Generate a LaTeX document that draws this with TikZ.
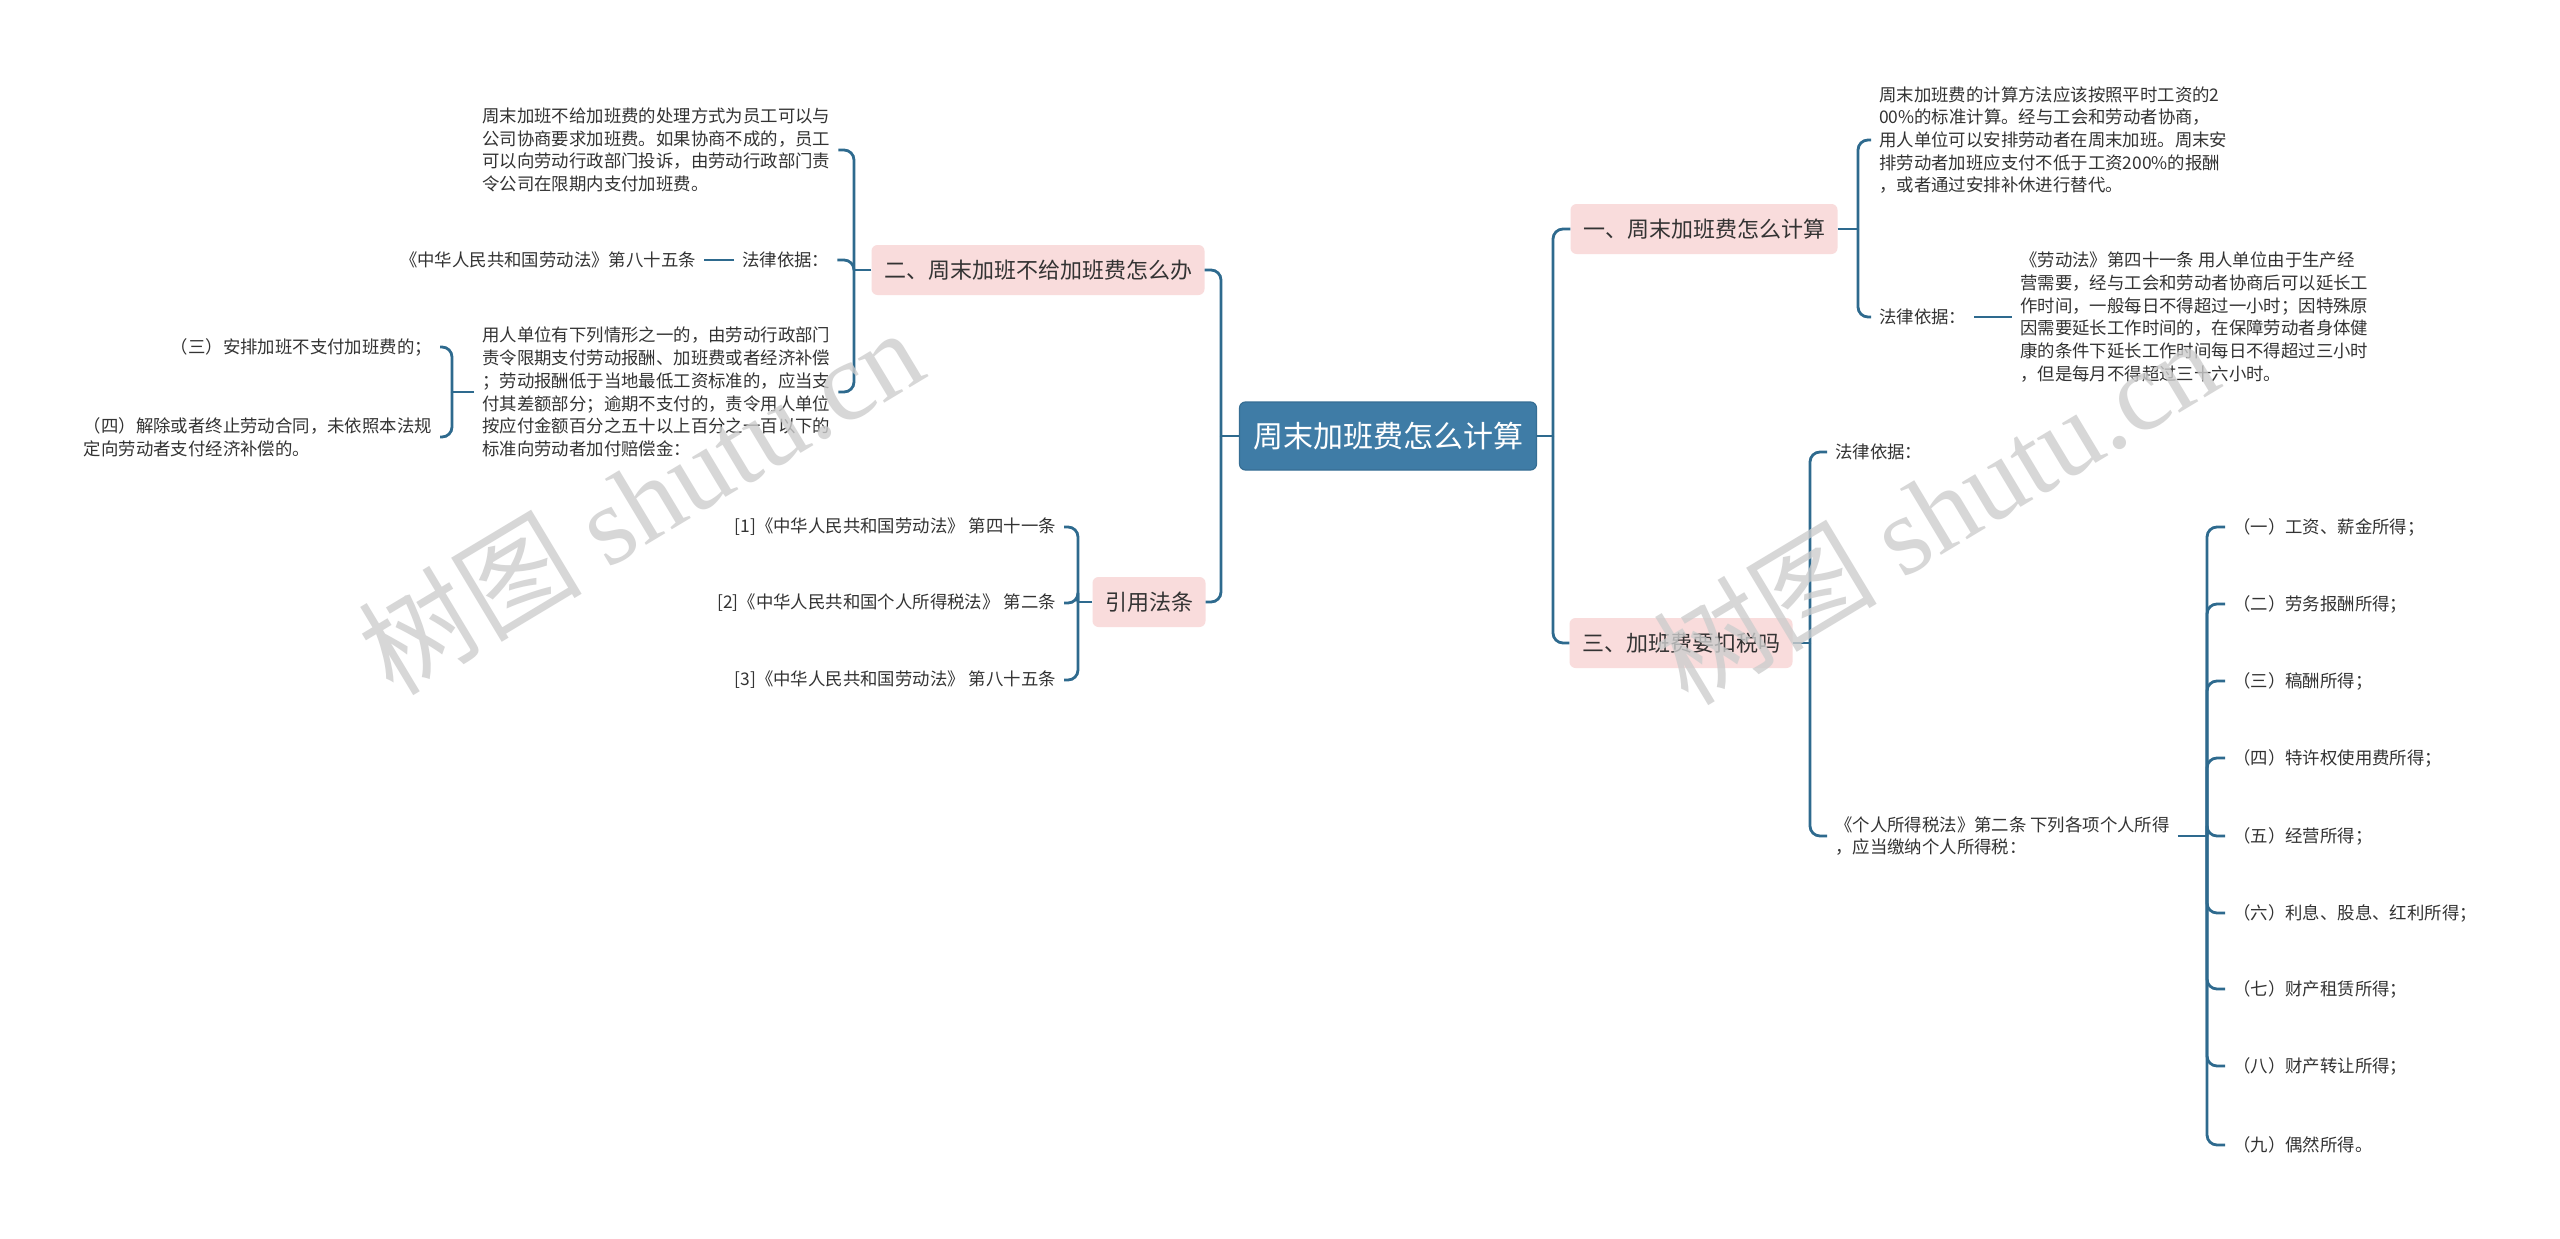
\documentclass[tikz,border=0pt]{standalone}
\usepackage{fontspec}
\setmainfont{Noto Sans CJK SC}
\newfontfamily\wmlatin{Liberation Serif}
\usetikzlibrary{calc}
\definecolor{linec}{HTML}{2E6A8E}
\definecolor{rootc}{HTML}{3F7CA6}
\definecolor{rootd}{HTML}{366E94}
\definecolor{pinkc}{HTML}{F9DCDC}
\definecolor{textc}{HTML}{333333}
\definecolor{wmc}{HTML}{CDCDCD}
\begin{document}
\begin{tikzpicture}[x=1pt,y=-1pt,
  root/.style={draw=rootd, line width=1.2pt, fill=rootc, rounded corners=6pt, text=white,
    font=\fontsize{30}{36}\selectfont, minimum width=297pt, minimum height=68pt, inner sep=0pt},
  branch/.style={fill=pinkc, rounded corners=6pt, text=textc, font=\fontsize{22}{26}\selectfont,
    minimum height=50pt, inner xsep=12.5pt, inner ysep=0pt},
  leaf/.style={text=textc, font=\fontsize{17.4}{22.7}\selectfont, align=left, inner xsep=8pt, inner ysep=3pt},
  conn/.style={draw=linec, line width=2.8pt, rounded corners=10pt},
  wm/.style={text=wmc, opacity=0.8, rotate=31, font=\fontsize{112}{120}\selectfont, inner sep=0pt}
]
\useasboundingbox (0,0) rectangle (2560,1239);
\fill[white] (0,0) rectangle (2560,1239);

% root and branches
\node[root] (root) at (1388,436) {周末加班费怎么计算};
\node[branch] (b1) at (1704,229) {一、周末加班费怎么计算};
\node[branch] (b3) at (1681,643) {三、加班费要扣税吗};
\node[branch] (b2) at (1038,270) {二、周末加班不给加班费怎么办};
\node[branch] (b4) at (1149,602) {引用法条};

% junction points
\coordinate (jr) at (1553,436);
\coordinate (jl) at (1221,436);
\coordinate (jb1) at (1858,229);
\coordinate (jb3) at (1810,643);
\coordinate (jb2) at (854,270);
\coordinate (jb4) at (1078,602);
\coordinate (jt5) at (452,392);
\coordinate (jt3) at (2207,836);

% branch 一
\node[leaf, anchor=west] (t1) at (1871,140) {周末加班费的计算方法应该按照平时工资的2\\00\%的标准计算。经与工会和劳动者协商，\\用人单位可以安排劳动者在周末加班。周末安\\排劳动者加班应支付不低于工资200\%的报酬\\，或者通过安排补休进行替代。};
\node[leaf, anchor=west] (l1) at (1871,317) {法律依据：};
\node[leaf, anchor=west] (t2) at (2012,317) {《劳动法》第四十一条 用人单位由于生产经\\营需要，经与工会和劳动者协商后可以延长工\\作时间，一般每日不得超过一小时；因特殊原\\因需要延长工作时间的，在保障劳动者身体健\\康的条件下延长工作时间每日不得超过三小时\\，但是每月不得超过三十六小时。};

% branch 三
\node[leaf, anchor=west] (l2) at (1827,452) {法律依据：};
\node[leaf, anchor=west] (t3) at (1827,836) {《个人所得税法》第二条 下列各项个人所得\\，应当缴纳个人所得税：};
\node[leaf, anchor=west] (i1) at (2225,527) {（一）工资、薪金所得；};
\node[leaf, anchor=west] (i2) at (2225,604) {（二）劳务报酬所得；};
\node[leaf, anchor=west] (i3) at (2225,681) {（三）稿酬所得；};
\node[leaf, anchor=west] (i4) at (2225,758) {（四）特许权使用费所得；};
\node[leaf, anchor=west] (i5) at (2225,836) {（五）经营所得；};
\node[leaf, anchor=west] (i6) at (2225,913) {（六）利息、股息、红利所得；};
\node[leaf, anchor=west] (i7) at (2225,989) {（七）财产租赁所得；};
\node[leaf, anchor=west] (i8) at (2225,1066) {（八）财产转让所得；};
\node[leaf, anchor=west] (i9) at (2225,1145) {（九）偶然所得。};

% branch 二
\node[leaf, anchor=west] (t4) at (474,150) {周末加班不给加班费的处理方式为员工可以与\\公司协商要求加班费。如果协商不成的，员工\\可以向劳动行政部门投诉，由劳动行政部门责\\令公司在限期内支付加班费。};
\node[leaf, anchor=west] (l3) at (734,260) {法律依据：};
\node[leaf, anchor=east] (r85) at (704,260) {《中华人民共和国劳动法》第八十五条};
\node[leaf, anchor=west] (t5) at (474,392) {用人单位有下列情形之一的，由劳动行政部门\\责令限期支付劳动报酬、加班费或者经济补偿\\；劳动报酬低于当地最低工资标准的，应当支\\付其差额部分；逾期不支付的，责令用人单位\\按应付金额百分之五十以上百分之一百以下的\\标准向劳动者加付赔偿金：};
\node[leaf, anchor=east] (c3) at (440,347) {（三）安排加班不支付加班费的；};
\node[leaf, anchor=east] (c4) at (440,437) {（四）解除或者终止劳动合同，未依照本法规\\定向劳动者支付经济补偿的。};

% 引用法条
\node[leaf, anchor=east] (f1) at (1064,527) {[1]《中华人民共和国劳动法》 第四十一条};
\node[leaf, anchor=east] (f2) at (1064,603) {[2]《中华人民共和国个人所得税法》 第二条};
\node[leaf, anchor=east] (f3) at (1064,680) {[3]《中华人民共和国劳动法》 第八十五条};

% connectors
\draw[conn] (root.east) -- (jr);
\draw[conn] (jr) |- (b1.west);
\draw[conn] (jr) |- (b3.west);
\draw[conn] (root.west) -- (jl);
\draw[conn] (jl) |- (b2.east);
\draw[conn] (jl) |- (b4.east);

\draw[conn] (b1.east) -- (jb1);
\draw[conn] (jb1) |- (t1.west);
\draw[conn] (jb1) |- (l1.west);
\draw[conn] (l1.east) -- (t2.west);

\draw[conn] (b3.east) -- (jb3);
\draw[conn] (jb3) |- (l2.west);
\draw[conn] (jb3) |- (t3.west);
\draw[conn] (t3.east) -- (jt3);
\foreach \n in {i1,i2,i3,i4,i5,i6,i7,i8,i9}{\draw[conn] (jt3) |- (\n.west);}

\draw[conn] (b2.west) -- (jb2);
\draw[conn] (jb2) |- (t4.east);
\draw[conn] (jb2) |- (l3.east);
\draw[conn] (jb2) |- (t5.east);
\draw[conn] (l3.west) -- (r85.east);
\draw[conn] (t5.west) -- (jt5);
\draw[conn] (jt5) |- (c3.east);
\draw[conn] (jt5) |- (c4.east);

\draw[conn] (b4.west) -- (jb4);
\foreach \n in {f1,f2,f3}{\draw[conn] (jb4) |- (\n.east);}

% watermarks
\node[wm] (wm1) at (640,500) {树图 {\wmlatin shutu.cn}};
\node[wm] (wm2) at (1935,510) {树图 {\wmlatin shutu.cn}};
\end{tikzpicture}
\end{document}
